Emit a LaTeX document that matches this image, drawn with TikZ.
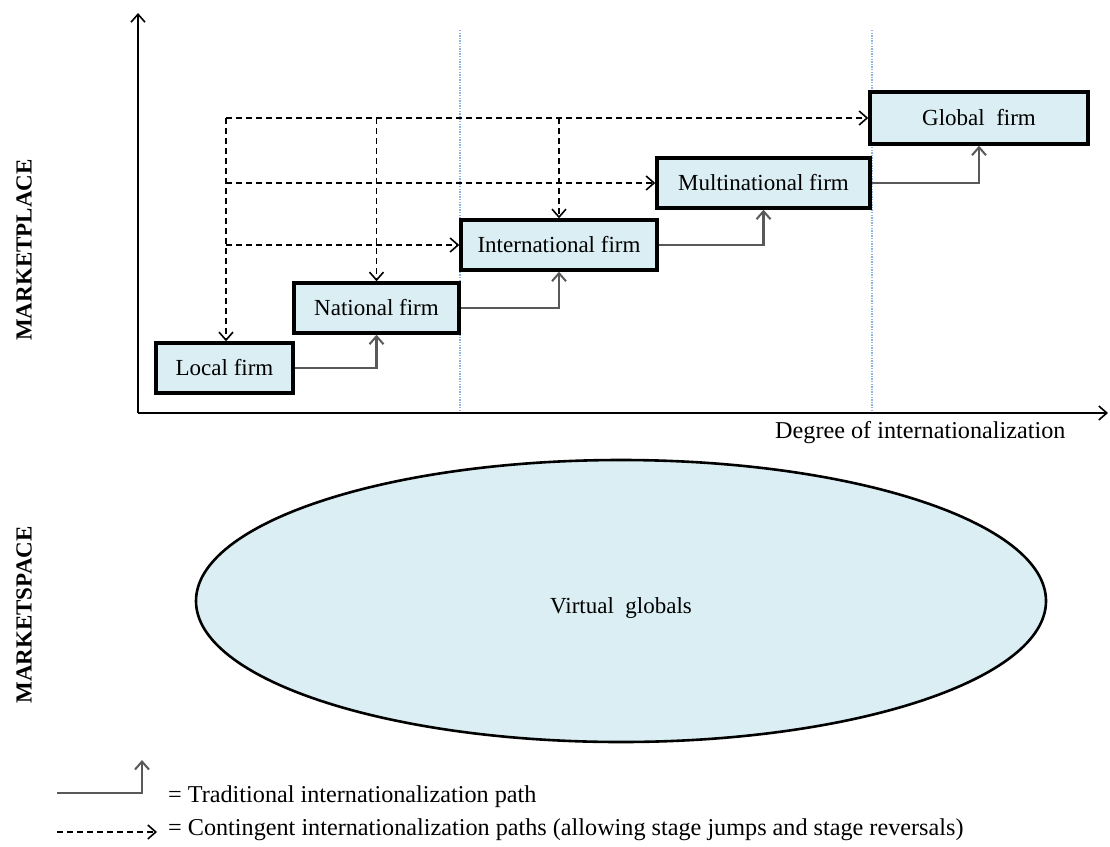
\documentclass[tikz,border=0pt]{standalone}
\usepackage{fontspec}
\setmainfont{Liberation Serif}
\usetikzlibrary{arrows.meta,shapes.geometric}
\definecolor{boxfill}{HTML}{DAEEF3}
\definecolor{pathgray}{HTML}{595959}
\definecolor{guideblue}{HTML}{8EB4E3}
\begin{document}
\begin{tikzpicture}[x=1pt,y=-1pt,
  txt/.style={font=\fontsize{23}{27}\selectfont},
  bigtxt/.style={font=\fontsize{24.2}{28}\selectfont},
  firm/.style={txt, draw=black, line width=3.4pt, fill=boxfill,
    minimum height=50pt, inner sep=0pt},
  trad/.style={draw=pathgray, line width=2.4pt,
    -{Straight Barb[length=8pt,width=14pt,line width=2pt]}},
  cont/.style={draw=black, line width=1.6pt, dash pattern=on 6pt off 4pt,
    -{Straight Barb[length=8pt,width=14pt,line width=1.6pt]}},
  guide/.style={draw=guideblue, line width=2pt, dash pattern=on 1.4pt off 1.2pt},
  axis/.style={draw=black, line width=1.8pt,
    -{Straight Barb[length=8pt,width=14pt,line width=1.6pt]}},
  side/.style={font=\fontsize{23}{27}\selectfont\bfseries, rotate=90, inner sep=0pt}
]
\useasboundingbox (0,0) rectangle (1110,846);

% stage boundaries
\coordinate (g1t) at (460,30);
\coordinate (g1b) at (460,412);
\coordinate (g2t) at (872,30);
\coordinate (g2b) at (872,412);
\draw[guide] (g1t) -- (g1b);
\draw[guide] (g2t) -- (g2b);

% axes
\coordinate (origin) at (138,413);
\coordinate (ytop) at (138,13);
\coordinate (xend) at (1108,413);
\draw[axis] (origin) -- (ytop);
\draw[axis] (origin) -- (xend);
\node[bigtxt, anchor=west, inner sep=0pt] (xlabel) at (775,433) {Degree of internationalization};

% side labels
\node[side] (mplace) at (24,250) {MARKETPLACE};
\node[side] (mspace) at (24,615) {MARKETSPACE};

% firms
\node[firm, minimum width=137pt] (local) at (224.5,368) {Local firm};
\node[firm, minimum width=165pt] (national) at (376.5,308) {National firm};
\node[firm, minimum width=196pt] (international) at (559,245) {International firm};
\node[firm, minimum width=213pt] (multinational) at (763.5,183) {Multinational firm};
\node[firm, minimum width=218pt, minimum height=52pt] (global) at (979,118) {Global~~firm};

% traditional path
\draw[trad] (local.east) -| (national.south);
\draw[trad] (national.east) -| (international.south);
\draw[trad] (international.east) -| (multinational.south);
\draw[trad] (multinational.east) -| (global.south);

% contingent paths
\coordinate (corner) at (226,118);
\coordinate (drop2) at (national.north |- corner);
\coordinate (drop3) at (international.north |- corner);
\draw[cont] (corner) -- (global.west);
\draw[cont] (corner) -- (corner |- local.north);
\draw[cont] (drop2) -- (national.north);
\draw[cont] (drop3) -- (international.north);
\draw[cont] (corner |- multinational.west) -- (multinational.west);
\draw[cont] (corner |- international.west) -- (international.west);

% marketspace
\node[ellipse, draw=black, line width=2.6pt, fill=boxfill,
  minimum width=850pt, minimum height=282pt, inner sep=0pt] (virtual) at (621,601) {};
\node[txt] (virtualtext) at (621,608) {Virtual~~globals};

% legend
\coordinate (l1a) at (57,793);
\coordinate (l1b) at (142,760);
\draw[trad] (l1a) -| (l1b);
\node[bigtxt, anchor=west, inner sep=0pt] (legtrad) at (168,797) {= Traditional internationalization path};
\coordinate (l2a) at (57,832);
\coordinate (l2b) at (157,832);
\draw[cont] (l2a) -- (l2b);
\node[bigtxt, anchor=west, inner sep=0pt] (legcont) at (168,830) {= Contingent internationalization paths (allowing stage jumps and stage reversals)};
\end{tikzpicture}
\end{document}
